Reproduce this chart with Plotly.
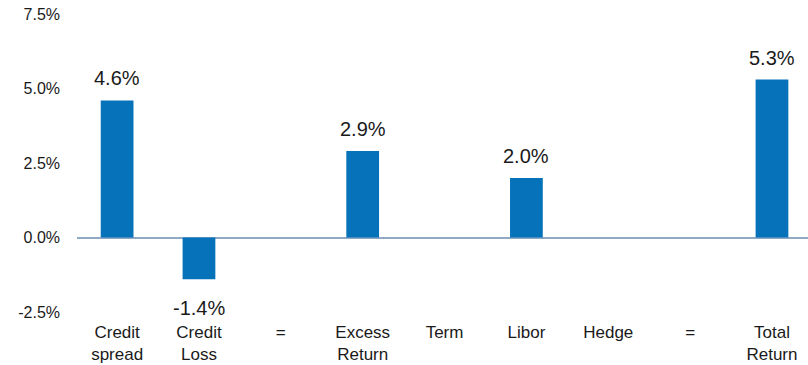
import plotly.graph_objects as go

categories = ["Credit<br>spread", "Credit<br>Loss", "=", "Excess<br>Return", "Term",
              "Libor", "Hedge", "=", "Total<br>Return"]
values = [4.6, -1.4, None, 2.9, 0.0, 2.0, 0.0, None, 5.3]
y_ticks = [-2.5, 0.0, 2.5, 5.0, 7.5]
y_tick_labels = ["-2.5%", "0.0%", "2.5%", "5.0%", "7.5%"]

FONT = "Liberation Sans, Arial, sans-serif"
positions = list(range(len(categories)))

fig = go.Figure()
fig.add_trace(go.Bar(
    x=positions, y=values, width=0.4,
    marker=dict(color="#0672BA", line=dict(width=0)),
    hoverinfo="skip",
))

for p, v in zip(positions, values):
    if v is None or v == 0:
        continue
    fig.add_annotation(
        x=p, y=v, text=f"{v:.1f}%", showarrow=False,
        yanchor="middle", yshift=22 if v > 0 else -29,
        font=dict(family=FONT, size=20, color="#1a1a1a"),
    )

fig.update_layout(
    width=808, height=365,
    margin=dict(l=77, r=0, t=14, b=53),
    paper_bgcolor="white", plot_bgcolor="white",
    showlegend=False,
    font=dict(family=FONT, size=18, color="#1a1a1a"),
    xaxis=dict(
        tickmode="array", tickvals=positions, ticktext=categories,
        range=[-0.49, 8.44], showgrid=False, showline=False, zeroline=False,
        ticks="", ticklabelstandoff=8, tickfont=dict(size=17),
        automargin=False,
    ),
    yaxis=dict(
        tickmode="array", tickvals=y_ticks, ticktext=y_tick_labels,
        range=[-2.5, 7.5], showgrid=False, showline=False,
        zeroline=True, zerolinecolor="#8FAAC4", zerolinewidth=1.5,
        ticks="", ticklabelstandoff=16, tickfont=dict(size=16),
        automargin=False,
    ),
)

fig.write_html("out.html")
